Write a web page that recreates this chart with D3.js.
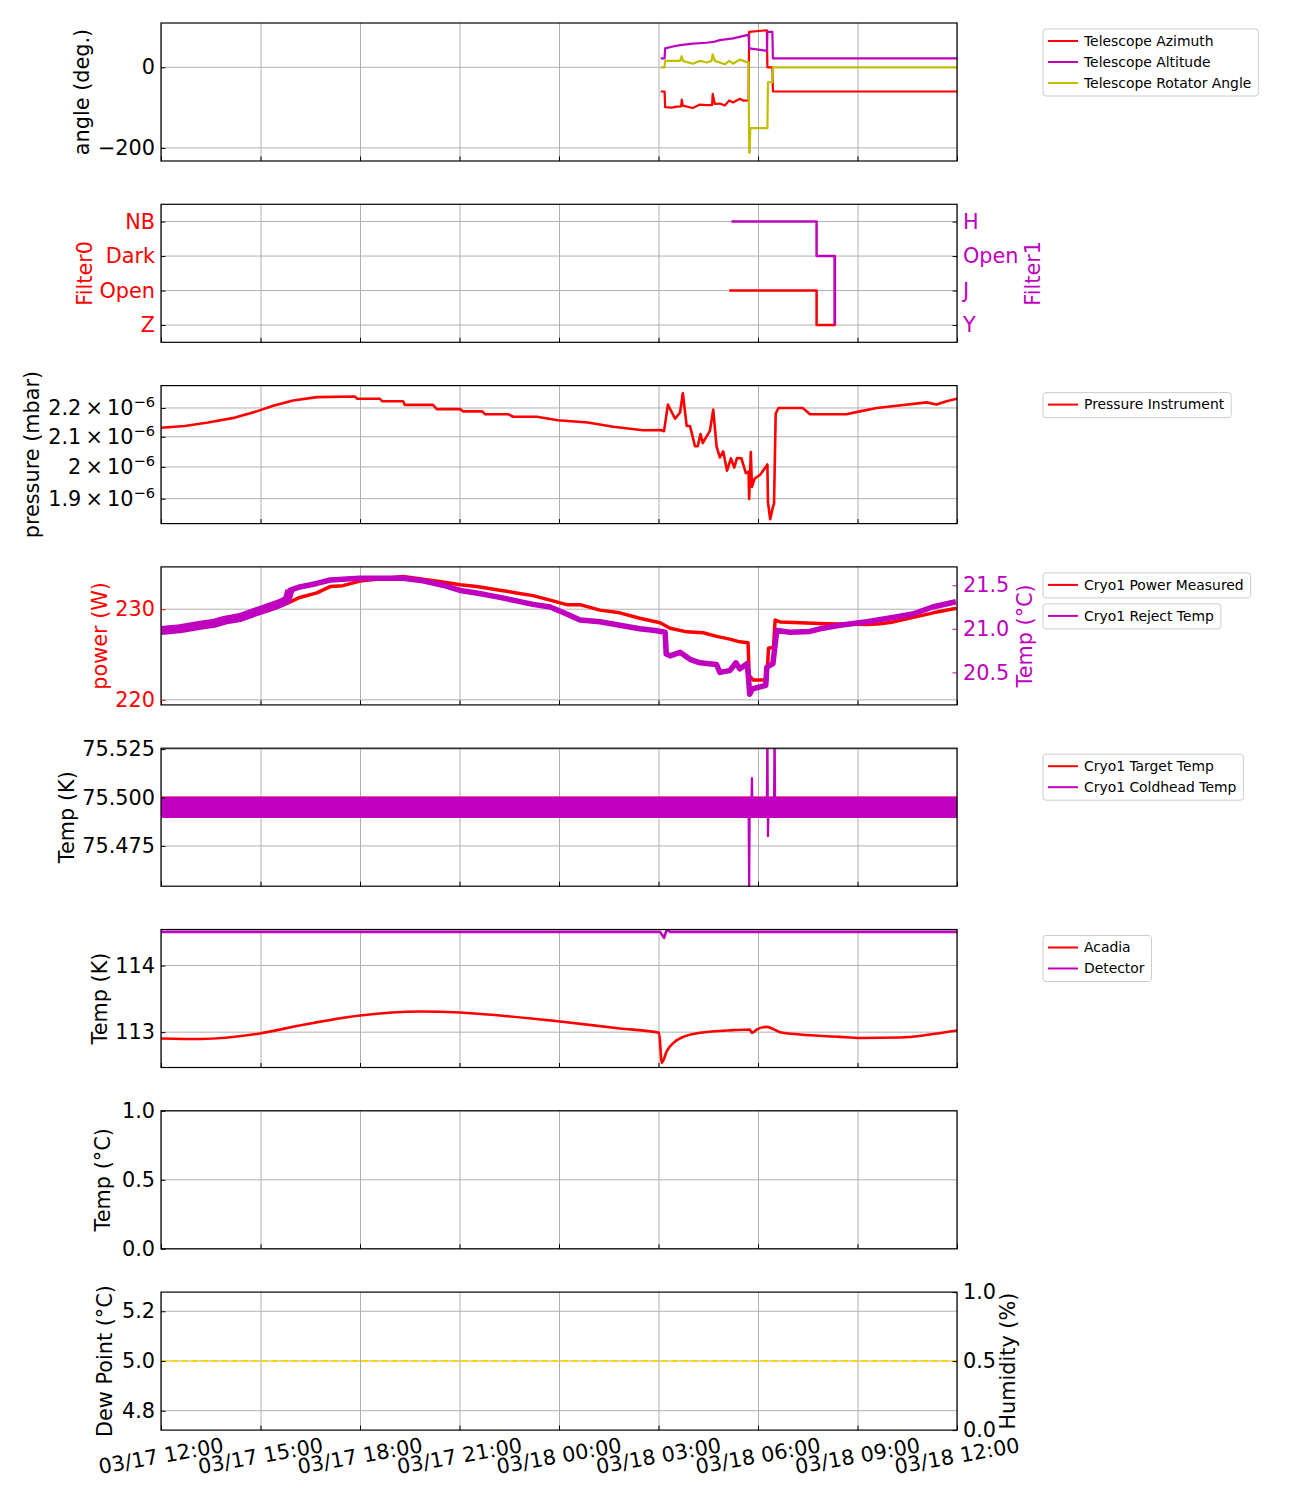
<!DOCTYPE html>
<html>
<head>
<meta charset="utf-8">
<script src="https://cdn.jsdelivr.net/npm/d3@7"></script>
<style>
  body { margin: 0; background: #fff; }
  text { font-family: "DejaVu Sans", sans-serif; }
  .tk text { font-size: 20.8px; }
  .lab { font-size: 20.8px; }
  .leg { font-size: 13.9px; }
</style>
</head>
<body>
<div id="chart"></div>
<script>
/**
 * CONSTANTS AND GLOBALS
 * */
const width = 1300, height = 1500;
const plotL = 161, plotR = 957, plotW = plotR - plotL;
const panelH = 138;
const panelTop = i => 23 + i * 181.3;

const RED = "#ff0000", MAG = "#bf00bf", OLIVE = "#bfbf00", GOLD = "#ffd700";

/**
 * DATA
 * */
const timeStart = "03/17 12:00", timeEnd = "03/18 12:00";

const telAzimuth = [
  ["03/18 03:04", -60], ["03/18 03:11", -60], ["03/18 03:12", -99], ["03/18 03:24", -100],
  ["03/18 03:33", -97.5], ["03/18 03:41", -97], ["03/18 03:42", -80], ["03/18 03:44", -95],
  ["03/18 04:02", -101], ["03/18 04:15", -92.5], ["03/18 04:27", -94], ["03/18 04:37", -94],
  ["03/18 04:38", -66], ["03/18 04:42", -91], ["03/18 04:51", -90], ["03/18 05:00", -95],
  ["03/18 05:08", -82.5], ["03/18 05:15", -87.5], ["03/18 05:27", -78], ["03/18 05:33", -82.5],
  ["03/18 05:43", -82], ["03/18 05:44", 88], ["03/18 06:16", 92], ["03/18 06:17", 0],
  ["03/18 06:26", 0], ["03/18 06:27", -60], ["03/18 12:00", -60]
];
const telAltitude = [
  ["03/18 03:04", 22], ["03/18 03:11", 22], ["03/18 03:12", 47], ["03/18 03:24", 51],
  ["03/18 03:39", 55], ["03/18 04:02", 59], ["03/18 04:27", 61], ["03/18 04:39", 63],
  ["03/18 04:51", 67.5], ["03/18 05:15", 72], ["03/18 05:40", 80], ["03/18 05:43", 80],
  ["03/18 05:44", 47], ["03/18 06:16", 41], ["03/18 06:17", 88], ["03/18 06:26", 88],
  ["03/18 06:27", 22], ["03/18 12:00", 22]
];
const telRotator = [
  ["03/18 03:04", 0], ["03/18 03:11", 0], ["03/18 03:12", 16], ["03/18 03:39", 16],
  ["03/18 03:42", 27.5], ["03/18 03:44", 16], ["03/18 04:02", 9], ["03/18 04:15", 16],
  ["03/18 04:27", 12], ["03/18 04:36", 16], ["03/18 04:38", 32], ["03/18 04:42", 16],
  ["03/18 05:00", 7.5], ["03/18 05:08", 16], ["03/18 05:15", 9], ["03/18 05:27", 19],
  ["03/18 05:40", 13], ["03/18 05:43", 13], ["03/18 05:44", -212], ["03/18 05:45", -212],
  ["03/18 05:46", -151], ["03/18 06:17", -151], ["03/18 06:18", -37], ["03/18 06:26", -37],
  ["03/18 06:27", 0], ["03/18 12:00", 0]
];

const filter0Levels = ["Z", "Open", "Dark", "NB"];
const filter1Levels = ["Y", "J", "Open", "H"];
const filter0 = [["03/18 05:08", "Open"], ["03/18 07:46", "Z"], ["03/18 08:19", "Dark"]];
const filter1 = [["03/18 05:12", "H"], ["03/18 07:46", "Open"], ["03/18 08:19", "Y"]];

// pressure in units of 1e-6 mbar
const pressure = [
  ["03/17 12:00", 2.131], ["03/17 12:43", 2.137], ["03/17 13:25", 2.149], ["03/17 14:14", 2.166],
  ["03/17 14:53", 2.188], ["03/17 15:23", 2.208], ["03/17 15:59", 2.227], ["03/17 16:42", 2.239],
  ["03/17 17:51", 2.241], ["03/17 17:55", 2.233], ["03/17 18:36", 2.233], ["03/17 18:40", 2.224],
  ["03/17 19:18", 2.224], ["03/17 19:21", 2.211], ["03/17 20:12", 2.211], ["03/17 20:19", 2.196],
  ["03/17 21:01", 2.196], ["03/17 21:06", 2.188], ["03/17 21:41", 2.188], ["03/17 21:46", 2.178],
  ["03/17 22:28", 2.178], ["03/17 22:37", 2.169], ["03/17 23:20", 2.169], ["03/17 23:58", 2.157],
  ["03/18 00:52", 2.149], ["03/18 01:38", 2.134], ["03/18 02:32", 2.122], ["03/18 03:04", 2.123],
  ["03/18 03:10", 2.119], ["03/18 03:17", 2.212], ["03/18 03:30", 2.162], ["03/18 03:39", 2.184],
  ["03/18 03:44", 2.253], ["03/18 03:51", 2.137], ["03/18 03:57", 2.137], ["03/18 04:06", 2.068],
  ["03/18 04:11", 2.068], ["03/18 04:16", 2.109], ["03/18 04:20", 2.079], ["03/18 04:33", 2.120],
  ["03/18 04:39", 2.194], ["03/18 04:45", 2.068], ["03/18 04:51", 2.031], ["03/18 04:57", 2.051],
  ["03/18 05:04", 1.988], ["03/18 05:11", 2.028], ["03/18 05:17", 1.998], ["03/18 05:22", 2.029],
  ["03/18 05:30", 2.028], ["03/18 05:38", 1.980], ["03/18 05:43", 1.985], ["03/18 05:44", 1.899],
  ["03/18 05:47", 2.049], ["03/18 05:49", 1.937], ["03/18 05:54", 1.963], ["03/18 06:04", 1.975],
  ["03/18 06:17", 2.008], ["03/18 06:18", 1.890], ["03/18 06:22", 1.838], ["03/18 06:27", 1.875],
  ["03/18 06:29", 1.884], ["03/18 06:32", 2.180], ["03/18 06:37", 2.200], ["03/18 07:21", 2.200],
  ["03/18 07:34", 2.178], ["03/18 08:40", 2.178], ["03/18 09:04", 2.188], ["03/18 09:35", 2.200],
  ["03/18 10:11", 2.208], ["03/18 11:05", 2.220], ["03/18 11:23", 2.212], ["03/18 11:41", 2.224],
  ["03/18 12:00", 2.233]
];

const cryoPower = [
  ["03/17 12:00", 227.9], ["03/17 13:11", 228.3], ["03/17 14:23", 229.0], ["03/17 15:17", 229.9],
  ["03/17 15:50", 230.7], ["03/17 16:11", 231.3], ["03/17 16:42", 231.8], ["03/17 17:06", 232.5],
  ["03/17 17:29", 232.6], ["03/17 18:00", 233.1], ["03/17 18:42", 233.4], ["03/17 19:18", 233.6],
  ["03/17 19:54", 233.3], ["03/17 20:30", 233.0], ["03/17 21:01", 232.7], ["03/17 21:31", 232.5],
  ["03/17 22:13", 232.1], ["03/17 22:43", 231.8], ["03/17 23:13", 231.5], ["03/17 23:44", 231.0],
  ["03/18 00:14", 230.5], ["03/18 00:38", 230.5], ["03/18 01:14", 229.9], ["03/18 01:50", 229.6],
  ["03/18 02:26", 229.0], ["03/18 03:03", 228.5], ["03/18 03:21", 227.9], ["03/18 03:51", 227.5],
  ["03/18 04:21", 227.4], ["03/18 04:45", 227.0], ["03/18 05:09", 226.7], ["03/18 05:27", 226.4],
  ["03/18 05:42", 226.3], ["03/18 05:44", 222.7], ["03/18 05:51", 222.2], ["03/18 06:16", 222.2],
  ["03/18 06:19", 225.7], ["03/18 06:28", 225.8], ["03/18 06:31", 228.8], ["03/18 06:40", 228.6],
  ["03/18 07:16", 228.5], ["03/18 08:04", 228.4], ["03/18 09:17", 228.3], ["03/18 09:41", 228.4],
  ["03/18 10:05", 228.6], ["03/18 10:41", 229.1], ["03/18 11:17", 229.6], ["03/18 11:59", 230.1]
];
const cryoReject = [
  ["03/17 12:00", 20.98], ["03/17 12:34", 21.00], ["03/17 13:11", 21.04], ["03/17 13:34", 21.06],
  ["03/17 13:56", 21.10], ["03/17 14:23", 21.13], ["03/17 14:59", 21.21], ["03/17 15:17", 21.25],
  ["03/17 15:35", 21.29], ["03/17 15:48", 21.33], ["03/17 15:53", 21.44], ["03/17 16:11", 21.48],
  ["03/17 16:42", 21.52], ["03/17 17:06", 21.56], ["03/17 18:00", 21.58], ["03/17 19:18", 21.58],
  ["03/17 19:54", 21.55], ["03/17 20:30", 21.50], ["03/17 21:01", 21.44], ["03/17 21:31", 21.41],
  ["03/17 22:13", 21.36], ["03/17 22:43", 21.32], ["03/17 23:13", 21.28], ["03/17 23:44", 21.25],
  ["03/18 00:14", 21.17], ["03/18 00:38", 21.10], ["03/18 01:14", 21.08], ["03/18 01:50", 21.04],
  ["03/18 02:26", 21.00], ["03/18 02:54", 20.98], ["03/18 03:12", 20.96], ["03/18 03:14", 20.71],
  ["03/18 03:21", 20.69], ["03/18 03:39", 20.73], ["03/18 03:57", 20.65], ["03/18 04:15", 20.61],
  ["03/18 04:45", 20.59], ["03/18 04:51", 20.50], ["03/18 05:09", 20.52], ["03/18 05:20", 20.61],
  ["03/18 05:27", 20.54], ["03/18 05:40", 20.60], ["03/18 05:42", 20.50], ["03/18 05:45", 20.25],
  ["03/18 05:50", 20.31], ["03/18 06:14", 20.35], ["03/18 06:16", 20.56], ["03/18 06:27", 20.60],
  ["03/18 06:34", 20.98], ["03/18 06:58", 20.96], ["03/18 07:34", 20.97], ["03/18 07:52", 21.00],
  ["03/18 08:28", 21.04], ["03/18 09:17", 21.08], ["03/18 10:04", 21.13], ["03/18 10:40", 21.17],
  ["03/18 11:16", 21.25], ["03/18 11:58", 21.31]
];
// the reject temp is noisiest before this time
const rejectNoisyUntil = "03/17 15:53";

const cryoTarget = [["03/17 12:00", 75.5], ["03/18 12:00", 75.5]];
// coldhead oscillates inside this band: [time, low, high]
const coldheadBand = [["03/17 12:00", 75.4895, 75.5004], ["03/18 12:00", 75.4895, 75.5004]];
const coldheadSpikes = [
  ["03/18 05:43", 75.495], ["03/18 05:44", 75.45], ["03/18 05:45", 75.495], ["03/18 05:48", 75.495],
  ["03/18 05:49", 75.510], ["03/18 05:50", 75.495], ["03/18 06:16", 75.495], ["03/18 06:17", 75.54],
  ["03/18 06:18", 75.480], ["03/18 06:19", 75.495], ["03/18 06:29", 75.495], ["03/18 06:30", 75.54],
  ["03/18 06:31", 75.495]
];

const acadia = [
  ["03/17 12:00", 112.906], ["03/17 13:11", 112.898], ["03/17 14:59", 112.981], ["03/17 16:11", 113.10],
  ["03/17 18:00", 113.25], ["03/17 19:49", 113.31], ["03/17 21:01", 113.295], ["03/17 22:13", 113.25],
  ["03/18 00:02", 113.16], ["03/18 01:50", 113.055], ["03/18 03:01", 112.99], ["03/18 03:06", 112.54],
  ["03/18 03:15", 112.715], ["03/18 03:27", 112.84], ["03/18 03:45", 112.93], ["03/18 04:15", 112.99],
  ["03/18 05:15", 113.03], ["03/18 05:45", 113.04], ["03/18 05:49", 112.99], ["03/18 05:58", 113.04],
  ["03/18 06:16", 113.08], ["03/18 06:40", 113.00], ["03/18 07:16", 112.965], ["03/18 08:28", 112.93],
  ["03/18 09:04", 112.913], ["03/18 10:17", 112.92], ["03/18 11:11", 112.965], ["03/18 12:00", 113.025]
];
const detector = [
  ["03/17 12:00", 114.505], ["03/18 03:03", 114.505], ["03/18 03:10", 114.415], ["03/18 03:15", 114.54],
  ["03/18 03:21", 114.505], ["03/18 12:00", 114.505]
];

const dewPoint = [["03/17 12:00", 5.0], ["03/18 12:00", 5.0]];

/**
 * SCALES
 * */
const parseT = d3.utcParse("%m/%d %H:%M");
const fmtT = d3.utcFormat("%m/%d %H:%M");
const x = d3.scaleUtc().domain([parseT(timeStart), parseT(timeEnd)]).range([0, plotW]);
const hourTicks = x.ticks(d3.utcHour.every(3));

const svg = d3.select("#chart").append("svg")
  .attr("width", width).attr("height", height);

/**
 * HELPERS
 * */
function makePanel(i, showLabels) {
  const g = svg.append("g").attr("transform", `translate(${plotL},${panelTop(i)})`);
  g.append("clipPath").attr("id", "clip" + i)
    .append("rect").attr("width", plotW).attr("height", panelH);

  // vertical grid
  g.append("g").attr("transform", `translate(0,${panelH})`)
    .call(d3.axisBottom(x).tickValues(hourTicks).tickSize(-panelH).tickFormat(""))
    .call(a => a.select(".domain").remove())
    .selectAll("line").attr("stroke", "#b0b0b0").attr("stroke-width", 1);

  const grid = g.append("g");
  const data = g.append("g").attr("clip-path", `url(#clip${i})`);
  const over = g.append("g");

  over.append("rect").attr("width", plotW).attr("height", panelH)
    .attr("fill", "none").attr("stroke", "#000").attr("stroke-width", 1.2);

  // bottom ticks, inward
  over.append("g").attr("transform", `translate(0,${panelH})`)
    .call(d3.axisBottom(x).tickValues(hourTicks).tickSizeInner(-4.5).tickSizeOuter(0).tickFormat(""))
    .call(a => a.select(".domain").remove());

  if (showLabels) {
    over.selectAll(".xlab").data(hourTicks).join("text")
      .attr("class", "lab")
      .attr("text-anchor", "middle")
      .attr("dominant-baseline", "central")
      .attr("transform", d => `translate(${x(d)},${panelH + 26}) rotate(-10)`)
      .text(d => fmtT(d));
  }
  return { g, grid, data, over };
}

function hGrid(p, y, ticks) {
  p.grid.selectAll("line").data(ticks).join("line")
    .attr("x1", 0).attr("x2", plotW)
    .attr("y1", d => y(d)).attr("y2", d => y(d))
    .attr("stroke", "#b0b0b0").attr("stroke-width", 1);
}

function yTicks(p, y, ticks, fmt, side, color) {
  const ax = side === "left"
    ? d3.axisLeft(y) : d3.axisRight(y);
  ax.tickValues(ticks).tickSizeInner(-4.5).tickSizeOuter(0).tickPadding(6).tickFormat(fmt);
  const a = p.over.append("g").attr("class", "tk")
    .attr("transform", side === "left" ? null : `translate(${plotW},0)`)
    .call(ax)
    .attr("font-size", null).attr("font-family", null);
  a.select(".domain").remove();
  a.selectAll("line").attr("stroke", color || "#000");
  a.selectAll("text").attr("fill", color || "#000");
  return a;
}

function drawLine(p, series, y, color, w, opts = {}) {
  const line = d3.line()
    .x(d => x(parseT(d[0])))
    .y(d => y(opts.map ? opts.map(d[1]) : d[1]))
    .curve(opts.curve || d3.curveLinear);
  p.data.append("path").datum(series)
    .attr("d", line)
    .attr("fill", "none")
    .attr("stroke", color)
    .attr("stroke-width", w)
    .attr("stroke-linejoin", "round")
    .attr("stroke-dasharray", opts.dash || null);
}

function yLabel(txt, cx, cy, color) {
  svg.append("text").attr("class", "lab")
    .attr("text-anchor", "middle")
    .attr("dy", "0.35em")
    .attr("fill", color || "#000")
    .attr("transform", `translate(${cx},${cy}) rotate(-90)`)
    .text(txt);
}

function legend(items, top) {
  const lg = svg.append("g").attr("transform", `translate(1043,${top})`);
  const box = lg.append("rect")
    .attr("rx", 3).attr("fill", "#fff").attr("fill-opacity", 0.8)
    .attr("stroke", "#cccccc").attr("stroke-width", 1);
  let maxW = 0;
  items.forEach(([name, color], k) => {
    const cy = 12 + 21 * k;
    lg.append("line").attr("x1", 5).attr("x2", 35).attr("y1", cy).attr("y2", cy)
      .attr("stroke", color).attr("stroke-width", 2);
    const t = lg.append("text").attr("class", "leg")
      .attr("x", 41).attr("y", cy).attr("dy", "0.35em").text(name);
    maxW = Math.max(maxW, t.node().getComputedTextLength());
  });
  box.attr("width", 41 + maxW + 7).attr("height", 4 + 21 * items.length);
}

const cy = i => panelTop(i) + panelH / 2;

/**
 * PANEL 1: telescope angles
 * */
{
  const p = makePanel(0);
  const y = d3.scaleLinear().domain([-232.5, 110]).range([panelH, 0]);
  hGrid(p, y, [0, -200]);
  yTicks(p, y, [0, -200], d => d3.format("d")(d).replace("-", "\u2212"), "left");
  drawLine(p, telAzimuth, y, RED, 2.2);
  drawLine(p, telAltitude, y, MAG, 2.2);
  drawLine(p, telRotator, y, OLIVE, 2.2);
  yLabel("angle (deg.)", 82, cy(0));
  legend([["Telescope Azimuth", RED], ["Telescope Altitude", MAG], ["Telescope Rotator Angle", OLIVE]], panelTop(0) + 6);
}

/**
 * PANEL 2: filters
 * */
{
  const p = makePanel(1);
  const y = d3.scaleLinear().domain([-0.5, 3.5]).range([panelH, 0]);
  const idx = [0, 1, 2, 3];
  hGrid(p, y, idx);
  yTicks(p, y, idx, d => filter0Levels[d], "left", RED).selectAll("line").attr("stroke", "#000");
  yTicks(p, y, idx, d => filter1Levels[d], "right", MAG).selectAll("line").attr("stroke", "#000");
  drawLine(p, filter0, y, RED, 2.5, { curve: d3.curveStepAfter, map: v => filter0Levels.indexOf(v) });
  drawLine(p, filter1, y, MAG, 2.5, { curve: d3.curveStepAfter, map: v => filter1Levels.indexOf(v) });
  yLabel("Filter0", 85, cy(1), RED);
  yLabel("Filter1", 1033, cy(1), MAG);
}

/**
 * PANEL 3: pressure (log)
 * */
{
  const p = makePanel(2);
  const y = d3.scaleLog().domain([1.825e-6, 2.281e-6]).range([panelH, 0]);
  const ticks = [2.2e-6, 2.1e-6, 2.0e-6, 1.9e-6];
  hGrid(p, y, ticks);
  const a = yTicks(p, y, ticks, "", "left");
  a.selectAll(".tick text").each(function (d) {
    const t = d3.select(this);
    const m = +(d * 1e6).toFixed(1);
    t.append("tspan").text(`${m}\u2009\u00d7\u200910`);
    t.append("tspan").attr("dy", "-0.55em").attr("font-size", "14.6px").text("\u22126");
  });
  drawLine(p, pressure, y, RED, 2.6, { map: v => v * 1e-6 });
  yLabel("pressure (mbar)", 32, cy(2));
  legend([["Pressure Instrument", RED]], panelTop(2) + 7);
}

/**
 * PANEL 4: cryo power + reject temp
 * */
{
  const p = makePanel(3);
  const y = d3.scaleLinear().domain([219.44, 234.67]).range([panelH, 0]);
  const y2 = d3.scaleLinear().domain([20.127, 21.71]).range([panelH, 0]);
  hGrid(p, y, [220, 230]);
  yTicks(p, y, [220, 230], d3.format("d"), "left", RED);
  yTicks(p, y2, [20.5, 21.0, 21.5], d3.format(".1f"), "right", MAG);
  drawLine(p, cryoPower, y, RED, 3.5);
  const cut = parseT(rejectNoisyUntil);
  drawLine(p, cryoReject.filter(d => parseT(d[0]) <= cut), y2, MAG, 9);
  drawLine(p, cryoReject, y2, MAG, 5.5);
  yLabel("power (W)", 100, cy(3), RED);
  yLabel("Temp (\u00b0C)", 1025, cy(3), MAG);
  legend([["Cryo1 Power Measured", RED]], panelTop(3) + 6);
  legend([["Cryo1 Reject Temp", MAG]], panelTop(3) + 37);
}

/**
 * PANEL 5: cryo target + coldhead
 * */
{
  const p = makePanel(4);
  const y = d3.scaleLinear().domain([75.4542, 75.5255]).range([panelH, 0]);
  const ticks = [75.475, 75.5, 75.525];
  hGrid(p, y, ticks);
  yTicks(p, y, ticks, d3.format(".3f"), "left");
  drawLine(p, cryoTarget, y, RED, 2);
  p.data.append("path").datum(coldheadBand)
    .attr("d", d3.area().x(d => x(parseT(d[0]))).y0(d => y(d[1])).y1(d => y(d[2])))
    .attr("fill", MAG);
  drawLine(p, coldheadSpikes, y, MAG, 2.2);
  yLabel("Temp (K)", 67, cy(4));
  legend([["Cryo1 Target Temp", RED], ["Cryo1 Coldhead Temp", MAG]], panelTop(4) + 6);
}

/**
 * PANEL 6: acadia + detector
 * */
{
  const p = makePanel(5);
  const y = d3.scaleLinear().domain([112.47, 114.54]).range([panelH, 0]);
  hGrid(p, y, [113, 114]);
  yTicks(p, y, [113, 114], d3.format("d"), "left");
  drawLine(p, acadia, y, RED, 2.6, { curve: d3.curveMonotoneX });
  drawLine(p, detector, y, MAG, 2.6);
  yLabel("Temp (K)", 100, cy(5));
  legend([["Acadia", RED], ["Detector", MAG]], panelTop(5) + 6);
}

/**
 * PANEL 7: empty temp
 * */
{
  const p = makePanel(6);
  const y = d3.scaleLinear().domain([0, 1]).range([panelH, 0]);
  hGrid(p, y, [0, 0.5, 1]);
  yTicks(p, y, [0, 0.5, 1], d3.format(".1f"), "left");
  yLabel("Temp (\u00b0C)", 103, cy(6));
}

/**
 * PANEL 8: dew point + humidity
 * */
{
  const p = makePanel(7, true);
  const y = d3.scaleLinear().domain([4.722, 5.277]).range([panelH, 0]);
  const y2 = d3.scaleLinear().domain([0, 1]).range([panelH, 0]);
  hGrid(p, y, [4.8, 5.0, 5.2]);
  yTicks(p, y, [4.8, 5.0, 5.2], d3.format(".1f"), "left");
  yTicks(p, y2, [0, 0.5, 1], d3.format(".1f"), "right");
  drawLine(p, dewPoint, y, GOLD, 2, { dash: "7,3" });
  yLabel("Dew Point (\u00b0C)", 105, cy(7));
  yLabel("Humidity (%)", 1008, cy(7));
}
</script>
</body>
</html>
